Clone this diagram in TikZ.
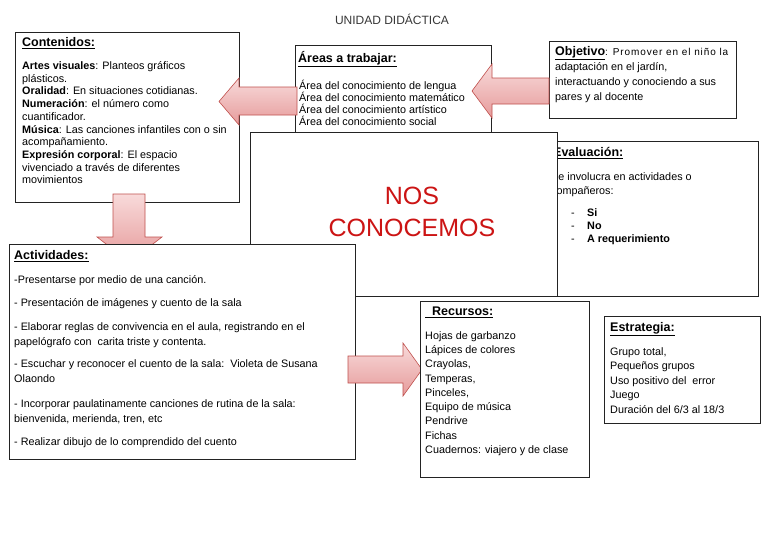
\documentclass[tikz,border=0pt]{standalone}
\usepackage{fontspec}
\setmainfont{Liberation Sans}
\definecolor{boxline}{RGB}{35,35,35}
\definecolor{arrline}{RGB}{192,80,77}
\definecolor{arrtop}{RGB}{248,218,218}
\definecolor{arrbot}{RGB}{230,155,155}
\definecolor{nosred}{RGB}{204,20,20}
\definecolor{titlegray}{RGB}{55,55,55}
\tikzset{
  box/.style={draw=boxline, line width=0.9pt, fill=white, inner sep=0pt, anchor=north west, rectangle},
  txt/.style={anchor=base west, inner sep=0pt, font=\fontsize{10.8}{12}\selectfont},
  hd/.style={anchor=base west, inner sep=0pt, font=\fontsize{12.5}{14}\selectfont\bfseries},
  barrow/.style={draw=arrline, line width=0.6pt, top color=arrtop, bottom color=arrbot, line join=miter}
}
\begin{document}
\begin{tikzpicture}[x=1pt,y=-1pt]
\useasboundingbox (0,0) rectangle (768,543);
\fill[white] (0,0) rectangle (768,543);

% title
\node[anchor=base, inner sep=0pt, font=\fontsize{12}{14}\selectfont, text=titlegray] (title) at (392,24.5) {UNIDAD DIDÁCTICA};

% Contenidos
\node[box, minimum width=224pt, minimum height=170pt] (cont) at (15,32) {};
\node[hd] (conth) at (22,47) {\underline{Contenidos:}};
\node[txt] (c1) at (22,69.5) {\textbf{Artes visuales}: Planteos gráficos};
\node[txt] (c2) at (22,82.2) {plásticos.};
\node[txt] (c3) at (22,94.9) {\textbf{Oralidad}: En situaciones cotidianas.};
\node[txt] (c4) at (22,107.6) {\textbf{Numeración}: el número como};
\node[txt] (c5) at (22,120.3) {cuantificador.};
\node[txt] (c6) at (22,133) {\textbf{Música}: Las canciones infantiles con o sin};
\node[txt] (c7) at (22,145.7) {acompañamiento.};
\node[txt] (c8) at (22,158.4) {\textbf{Expresión corporal}: El espacio};
\node[txt] (c9) at (22,171.1) {vivenciado a través de diferentes};
\node[txt] (c10) at (22,183.8) {movimientos};

% Areas
\node[box, minimum width=196pt, minimum height=93pt] (areas) at (295,45) {};
\node[hd] (areash) at (298,62.5) {\underline{Áreas a trabajar:}};
\node[txt] (a1) at (299,89) {Área del conocimiento de lengua};
\node[txt] (a2) at (299,101) {Área del conocimiento matemático};
\node[txt] (a3) at (299,113) {Área del conocimiento artístico};
\node[txt] (a4) at (299,125) {Área del conocimiento social};

% Objetivo
\node[box, minimum width=187pt, minimum height=77pt] (obj) at (549,41) {};
\node[txt] (o1) at (555,55.5) {{\fontsize{12.5}{14}\selectfont\bfseries\underline{Objetivo}}{\fontsize{10}{12}\selectfont\addfontfeature{LetterSpace=9}: Promover en el niño la}};
\node[txt] (o2) at (555,70.5) {adaptación en el jardín,};
\node[txt] (o3) at (555,85.5) {interactuando y conociendo a sus};
\node[txt] (o4) at (555,100.5) {pares y al docente};

% Evaluacion
\node[box, minimum width=212pt, minimum height=155pt] (eval) at (546,141) {};
\node[hd] (evalh) at (553,156.5) {\underline{Evaluación:}};
\node[txt] (e1) at (551,180.5) {Se involucra en actividades o};
\node[txt] (e2) at (551,194.5) {compañeros:};
\node[txt] (ed1) at (571,216.5) {-};
\node[txt] (ed2) at (571,229.5) {-};
\node[txt] (ed3) at (571,242.5) {-};
\node[txt] (ei1) at (587,216.5) {\textbf{Si}};
\node[txt] (ei2) at (587,229.5) {\textbf{No}};
\node[txt] (ei3) at (587,242.5) {\textbf{A requerimiento}};

% NOS CONOCEMOS
\node[box, minimum width=307pt, minimum height=164pt] (nos) at (250,132) {};
\node[anchor=base, inner sep=0pt, font=\fontsize{25}{30}\selectfont, text=nosred] (nos1) at (412,204) {NOS};
\node[anchor=base, inner sep=0pt, font=\fontsize{25}{30}\selectfont, text=nosred] (nos2) at (412,236) {CONOCEMOS};

% block arrows top
\draw[barrow] (297,87) -- (239,87) -- (239,78) -- (219,101.5) -- (239,125) -- (239,115) -- (297,115) -- cycle;
\draw[barrow] (549,78) -- (492,78) -- (492,64) -- (472,91) -- (492,118) -- (492,104) -- (549,104) -- cycle;
\draw[barrow] (113,194) -- (145,194) -- (145,237) -- (162,237) -- (129.5,262) -- (97,237) -- (113,237) -- cycle;

% Actividades
\node[box, minimum width=346pt, minimum height=215pt] (act) at (9,244) {};
\node[hd] (acth) at (14,259.5) {\underline{Actividades:}};
\node[txt] (t1) at (14,283.5) {-Presentarse por medio de una canción.};
\node[txt] (t2) at (14,306.5) {- Presentación de imágenes y cuento de la sala};
\node[txt] (t3) at (14,330) {- Elaborar reglas de convivencia en el aula, registrando en el};
\node[txt] (t4) at (14,345) {papelógrafo con\ \ carita triste y contenta.};
\node[txt] (t5) at (14,367.5) {- Escuchar y reconocer el cuento de la sala:\ \ Violeta de Susana};
\node[txt] (t6) at (14,382.5) {Olaondo};
\node[txt] (t7) at (14,407) {- Incorporar paulatinamente canciones de rutina de la sala:};
\node[txt] (t8) at (14,422) {bienvenida, merienda, tren, etc};
\node[txt] (t9) at (14,445) {- Realizar dibujo de lo comprendido del cuento};

% arrow to Recursos
\draw[barrow] (348,356) -- (403,356) -- (403,343) -- (422,369.5) -- (403,396) -- (403,383) -- (348,383) -- cycle;

% Recursos
\node[box, minimum width=169pt, minimum height=176pt] (rec) at (420,301) {};
\node[hd] (rech) at (425,315.5) {\underline{\ \ Recursos:}};
\node[txt] (r1) at (425,339.5) {Hojas de garbanzo};
\node[txt] (r2) at (425,353.5) {Lápices de colores};
\node[txt] (r3) at (425,367.5) {Crayolas,};
\node[txt] (r4) at (425,382.5) {Temperas,};
\node[txt] (r5) at (425,396.5) {Pinceles,};
\node[txt] (r6) at (425,410.5) {Equipo de música};
\node[txt] (r7) at (425,424.5) {Pendrive};
\node[txt] (r8) at (425,439.5) {Fichas};
\node[txt] (r9) at (425,453.5) {Cuadernos: viajero y de clase};

% Estrategia
\node[box, minimum width=156pt, minimum height=107pt] (est) at (604,316) {};
\node[hd] (esth) at (610,331.5) {\underline{Estrategia:}};
\node[txt] (s1) at (610,355.5) {Grupo total,};
\node[txt] (s2) at (610,369.5) {Pequeños grupos};
\node[txt] (s3) at (610,384.5) {Uso positivo del\ \ error};
\node[txt] (s4) at (610,398.5) {Juego};
\node[txt] (s5) at (610,413.5) {Duración del 6/3 al 18/3};
\end{tikzpicture}
\end{document}
